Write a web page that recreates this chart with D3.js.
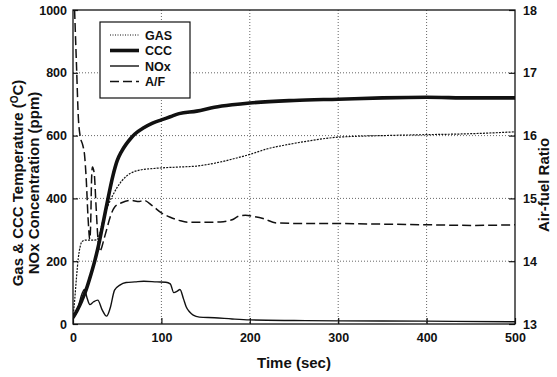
<!DOCTYPE html>
<html>
<head>
<meta charset="utf-8">
<script src="https://cdn.jsdelivr.net/npm/d3@7"></script>
<style>
  body { margin: 0; background: #fff; }
  text { font-family: Arial, "Liberation Sans", sans-serif; font-weight: bold; fill: #111; }
</style>
</head>
<body>
<div id="chart"></div>
<script>
// values, time in seconds
var gasT  = [0, 2, 4, 6, 8, 10, 14, 20, 27, 30, 33, 36, 40, 45, 50, 55, 60, 65, 75, 90, 120, 140, 160, 180, 200, 220, 240, 260, 300, 350, 400, 450, 500];
var gasV  = [20, 80, 150, 210, 245, 262, 267, 267, 268, 285, 320, 350, 380, 410, 435, 455, 470, 480, 490, 495, 500, 503, 512, 525, 540, 558, 570, 580, 595, 600, 603, 606, 612];

var cccT  = [0, 2, 5, 10, 15, 20, 25, 30, 35, 40, 45, 50, 55, 60, 65, 70, 80, 90, 100, 110, 120, 140, 160, 180, 200, 250, 300, 350, 400, 450, 500];
var cccV  = [20, 30, 45, 75, 110, 155, 205, 265, 335, 405, 470, 520, 550, 572, 590, 605, 625, 640, 650, 660, 670, 678, 690, 698, 704, 712, 716, 720, 722, 720, 720];

var noxT  = [0, 5, 10, 13, 16, 19, 23, 28, 33, 38, 42, 47, 53, 60, 70, 80, 95, 105, 110, 114, 118, 121, 125, 128, 132, 136, 143, 160, 180, 200, 250, 300, 400, 500];
var noxV  = [15, 45, 95, 110, 82, 62, 70, 76, 45, 25, 50, 108, 124, 132, 134, 136, 134, 133, 128, 100, 105, 110, 80, 55, 38, 28, 22, 20, 16, 13, 11, 10, 9, 7];

var afT   = [1.8, 4, 6, 8, 11, 13, 15, 17, 19, 20, 21, 22, 24, 26, 28, 30, 32, 35, 38, 42, 47, 55, 65, 75, 80, 90, 100, 110, 120, 130, 150, 170, 180, 188, 195, 205, 215, 230, 260, 300, 350, 400, 450, 500];
var afV   = [18, 17.1, 16.3, 16.0, 15.85, 15.7, 15.3, 14.7, 14.35, 14.6, 15.3, 15.5, 15.4, 14.9, 14.4, 14.15, 14.2, 14.35, 14.5, 14.7, 14.86, 14.93, 14.97, 14.95, 14.97, 14.88, 14.77, 14.7, 14.65, 14.62, 14.62, 14.63, 14.66, 14.72, 14.73, 14.71, 14.68, 14.61, 14.6, 14.6, 14.59, 14.58, 14.57, 14.58];

var xTicks  = [0, 100, 200, 300, 400, 500];
var yTicks  = [0, 200, 400, 600, 800, 1000];
var y2Ticks = [13, 14, 15, 16, 17, 18];
var legendNames = ["GAS", "CCC", "NOx", "A/F"];

var W = 557, H = 377;
// plot box edges (don't call these top/left, window.top is read only)
var pL = 73, pR = 515, pT = 10, pB = 324;

var svg = d3.select("#chart").append("svg")
    .attr("width", W)
    .attr("height", H);

var x  = d3.scaleLinear().domain([0, 500]).range([pL, pR]);
var y  = d3.scaleLinear().domain([0, 1000]).range([pB, pT]);
var y2 = d3.scaleLinear().domain([13, 18]).range([pB, pT]);

// dotted grid
var grid = svg.append("g").attr("stroke", "#555").attr("stroke-width", 0.9).attr("stroke-dasharray", "1,2");
grid.selectAll(".gx").data(xTicks.slice(1, -1)).enter().append("line")
    .attr("x1", function(d) { return x(d); }).attr("x2", function(d) { return x(d); })
    .attr("y1", pT).attr("y2", pB);
grid.selectAll(".gy").data(yTicks.slice(1, -1)).enter().append("line")
    .attr("x1", pL).attr("x2", pR)
    .attr("y1", function(d) { return y(d); }).attr("y2", function(d) { return y(d); });

// axes, ticks pointing in
var xAxis = svg.append("g").attr("transform", "translate(0," + pB + ")")
    .call(d3.axisBottom(x).tickValues(xTicks).tickSize(-6).tickPadding(9));
var yAxis = svg.append("g").attr("transform", "translate(" + pL + ",0)")
    .call(d3.axisLeft(y).tickValues(yTicks).tickFormat(d3.format("d")).tickSize(-5).tickPadding(6));
var y2Axis = svg.append("g").attr("transform", "translate(" + pR + ",0)")
    .call(d3.axisRight(y2).tickValues(y2Ticks).tickFormat(d3.format("d")).tickSize(-6).tickPadding(8));

[xAxis, yAxis, y2Axis].forEach(function(a) {
  a.selectAll(".domain").remove();
  a.selectAll("line").attr("stroke", "#111").attr("stroke-width", 1.2);
  a.selectAll("text").attr("font-size", 12.5).attr("font-family", null).attr("fill", "#111");
});

// frame
svg.append("rect")
    .attr("x", pL).attr("y", pT)
    .attr("width", pR - pL).attr("height", pB - pT)
    .attr("fill", "none").attr("stroke", "#111").attr("stroke-width", 1.3);

svg.append("clipPath").attr("id", "plotclip").append("rect")
    .attr("x", pL).attr("y", pT).attr("width", pR - pL).attr("height", pB - pT);

function pairs(ts, vs) { return ts.map(function(t, i) { return [t, vs[i]]; }); }

var lineL = d3.line().x(function(d) { return x(d[0]); }).y(function(d) { return y(d[1]); }).curve(d3.curveMonotoneX);
var lineR = d3.line().x(function(d) { return x(d[0]); }).y(function(d) { return y2(d[1]); }).curve(d3.curveMonotoneX);

var styles = {
  GAS: { w: 1.2, dash: "2,1.2" },
  CCC: { w: 3.6, dash: null },
  NOx: { w: 1.4, dash: null },
  "A/F": { w: 1.5, dash: "9,4" }
};

var plot = svg.append("g").attr("clip-path", "url(#plotclip)");
var series = [
  { name: "GAS", d: lineL(pairs(gasT, gasV)) },
  { name: "NOx", d: lineL(pairs(noxT, noxV)) },
  { name: "A/F", d: lineR(pairs(afT, afV)) },
  { name: "CCC", d: lineL(pairs(cccT, cccV)) }
];
plot.selectAll("path").data(series).enter().append("path")
    .attr("d", function(s) { return s.d; })
    .attr("fill", "none")
    .attr("stroke", "#111")
    .attr("stroke-linejoin", "round")
    .attr("stroke-width", function(s) { return styles[s.name].w; })
    .attr("stroke-dasharray", function(s) { return styles[s.name].dash; });

// legend
var lg = svg.append("g");
lg.append("rect").attr("x", 100).attr("y", 22).attr("width", 90).attr("height", 76)
    .attr("fill", "#fff").attr("stroke", "#111").attr("stroke-width", 1.2);
var items = lg.selectAll(".it").data(legendNames).enter().append("g")
    .attr("transform", function(d, i) { return "translate(0," + (35 + i * 15.5) + ")"; });
items.append("line").attr("x1", 110).attr("x2", 139).attr("y1", 0).attr("y2", 0)
    .attr("stroke", "#111")
    .attr("stroke-width", function(d) { return d == "GAS" ? 1 : styles[d].w; })
    .attr("stroke-dasharray", function(d) { return d == "GAS" ? "1,1.5" : styles[d].dash; });
items.append("text").attr("x", 145).attr("y", 4.5).attr("font-size", 12.5).text(function(d) { return d; });

// axis titles
svg.append("text").attr("x", (pL + pR) / 2).attr("y", 368)
    .attr("text-anchor", "middle").attr("font-size", 15).text("Time (sec)");

var lt = svg.append("text").attr("transform", "translate(23,183) rotate(-90)")
    .attr("text-anchor", "middle").attr("font-size", 15);
lt.append("tspan").text("Gas & CCC Temperature (");
lt.append("tspan").attr("font-size", 10).attr("baseline-shift", "super").text("O");
lt.append("tspan").text("C)");
svg.append("text").attr("transform", "translate(39,183) rotate(-90)")
    .attr("text-anchor", "middle").attr("font-size", 15).text("NOx Concentration (ppm)");

svg.append("text").attr("transform", "translate(549,185) rotate(-90)")
    .attr("text-anchor", "middle").attr("font-size", 15).text("Air-fuel Ratio");
</script>
</body>
</html>
